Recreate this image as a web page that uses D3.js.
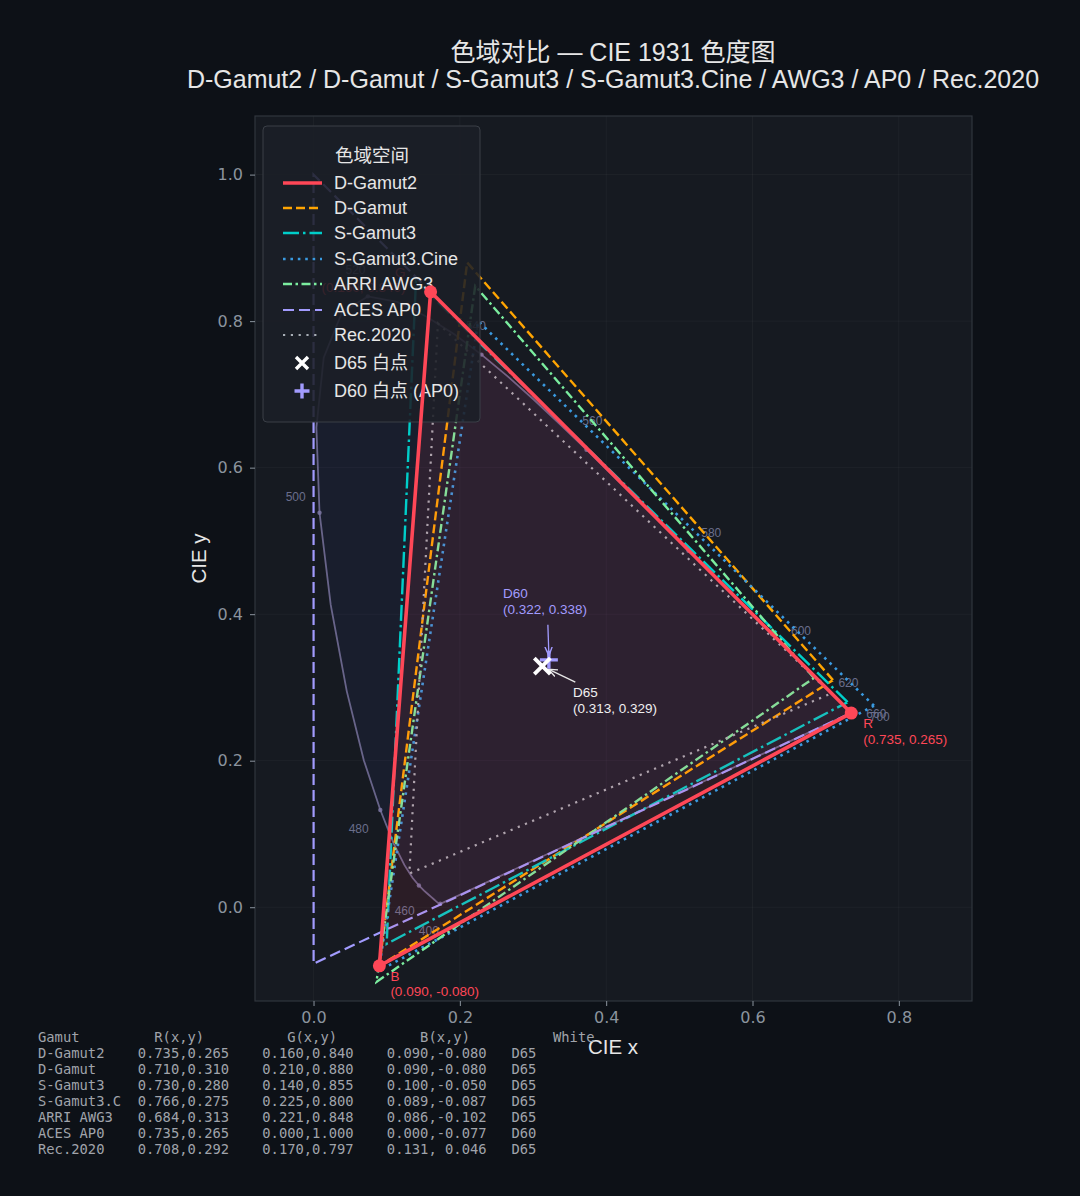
<!DOCTYPE html>
<html>
<head>
<meta charset="utf-8">
<script src="https://cdn.jsdelivr.net/npm/d3@7"></script>
<style>
  html, body { margin: 0; padding: 0; background: #0d1117; }
  svg { display: block; font-family: "Liberation Sans", "Noto Sans CJK SC", sans-serif; }
</style>
</head>
<body>
<div id="chart"></div>
<script>
// gamut primaries (x, y)
const gamutNames = ["D-Gamut2", "D-Gamut", "S-Gamut3", "S-Gamut3.Cine", "ARRI AWG3", "ACES AP0", "Rec.2020"];
const gamutRed   = [[0.735, 0.265], [0.710, 0.310], [0.730, 0.280], [0.766, 0.275], [0.684, 0.313], [0.7347, 0.2653], [0.708, 0.292]];
const gamutGreen = [[0.160, 0.840], [0.210, 0.880], [0.140, 0.855], [0.225, 0.800], [0.221, 0.848], [0.000, 1.000], [0.170, 0.797]];
const gamutBlue  = [[0.090, -0.080], [0.090, -0.080], [0.100, -0.050], [0.089, -0.087], [0.086, -0.102], [0.0001, -0.077], [0.131, 0.046]];
const gamutWhite = ["D65", "D65", "D65", "D65", "D65", "D60", "D65"];

const whiteD65 = [0.3127, 0.3290];
const whiteD60 = [0.32168, 0.33767];

// CIE 1931 2deg spectral locus, 5 nm steps
const locusNm = [380,385,390,395,400,405,410,415,420,425,430,435,440,445,450,455,460,465,470,475,480,485,490,495,500,505,510,515,520,525,530,535,540,545,550,555,560,565,570,575,580,585,590,595,600,605,610,615,620,625,630,635,640,645,650,655,660,665,670,675,680,685,690,695,700];
const locusX = [0.1741,0.1740,0.1738,0.1736,0.1733,0.1730,0.1726,0.1721,0.1714,0.1703,0.1689,0.1669,0.1644,0.1611,0.1566,0.1510,0.1440,0.1355,0.1241,0.1096,0.0913,0.0687,0.0454,0.0235,0.0082,0.0039,0.0139,0.0389,0.0743,0.1142,0.1547,0.1929,0.2296,0.2658,0.3016,0.3373,0.3731,0.4087,0.4441,0.4788,0.5125,0.5448,0.5752,0.6029,0.6270,0.6482,0.6658,0.6801,0.6915,0.7006,0.7079,0.7140,0.7190,0.7230,0.7260,0.7283,0.7300,0.7311,0.7320,0.7327,0.7334,0.7340,0.7344,0.7346,0.7347];
const locusY = [0.0050,0.0050,0.0049,0.0049,0.0048,0.0048,0.0048,0.0048,0.0051,0.0058,0.0069,0.0086,0.0109,0.0138,0.0177,0.0227,0.0297,0.0399,0.0578,0.0868,0.1327,0.2007,0.2950,0.4127,0.5384,0.6548,0.7502,0.8120,0.8338,0.8262,0.8059,0.7816,0.7543,0.7243,0.6923,0.6589,0.6245,0.5896,0.5547,0.5202,0.4866,0.4544,0.4242,0.3965,0.3725,0.3514,0.3340,0.3197,0.3083,0.2993,0.2920,0.2859,0.2809,0.2770,0.2740,0.2717,0.2700,0.2689,0.2680,0.2673,0.2666,0.2660,0.2656,0.2654,0.2653];
const labelNm = [400, 460, 480, 500, 520, 540, 560, 580, 600, 620, 660, 700];

const xTicks = [0.0, 0.2, 0.4, 0.6, 0.8];
const yTicks = [0.0, 0.2, 0.4, 0.6, 0.8, 1.0];

(function(){
  const W = 1080, H = 1196;
  const svg = d3.select("#chart").append("svg").attr("width", W).attr("height", H);
  svg.append("rect").attr("width", W).attr("height", H).attr("fill", "#0d1117");

  const plot = {left: 255, right: 972, top: 116, bottom: 1001};
  const x = d3.scaleLinear().domain([-0.08, 0.9]).range([plot.left, plot.right]);
  const y = d3.scaleLinear().domain([-0.128, 1.08]).range([plot.bottom, plot.top]);

  const styles = [
    {color: "#ff4757", width: 3.6, dash: null},
    {color: "#ffa502", width: 2.4, dash: "9,4"},
    {color: "#00cec9", width: 2.4, dash: "16,4,2.5,4"},
    {color: "#3a9ae0", width: 2.6, dash: "2.6,4.8"},
    {color: "#7bed9f", width: 2.4, dash: "9,3.5,2.5,3.5"},
    {color: "#a29bfe", width: 2.2, dash: "11,5"},
    {color: "#a8aeb6", width: 2.2, dash: "2.2,5.6"}
  ];

  // plot background
  svg.append("rect")
    .attr("x", plot.left).attr("y", plot.top)
    .attr("width", plot.right - plot.left).attr("height", plot.bottom - plot.top)
    .attr("fill", "#161a21");

  svg.append("clipPath").attr("id", "plotclip")
    .append("rect").attr("x", plot.left).attr("y", plot.top)
    .attr("width", plot.right - plot.left).attr("height", plot.bottom - plot.top);

  // grid
  const grid = svg.append("g");
  xTicks.forEach(t => grid.append("line").attr("x1", x(t)).attr("x2", x(t))
    .attr("y1", plot.top).attr("y2", plot.bottom).attr("stroke", "#ffffff").attr("stroke-opacity", 0.035));
  yTicks.forEach(t => grid.append("line").attr("y1", y(t)).attr("y2", y(t))
    .attr("x1", plot.left).attr("x2", plot.right).attr("stroke", "#ffffff").attr("stroke-opacity", 0.035));

  const g = svg.append("g").attr("clip-path", "url(#plotclip)");

  // spectral locus
  const locusPts = locusNm.map((nm, i) => [locusX[i], locusY[i]]);
  const line = d3.line().x(d => x(d[0])).y(d => y(d[1]));
  g.append("path").datum(locusPts.concat([locusPts[0]]))
    .attr("d", line)
    .attr("fill", "#4050d0").attr("fill-opacity", 0.07)
    .attr("stroke", "#7d77a3").attr("stroke-opacity", 0.8).attr("stroke-width", 1.8);

  const cx = x(whiteD65[0]), cy = y(whiteD65[1]);
  labelNm.forEach(nm => {
    const i = locusNm.indexOf(nm);
    const px = x(locusX[i]), py = y(locusY[i]);
    const dx = px - cx, dy = py - cy, len = Math.hypot(dx, dy);
    g.append("circle").attr("cx", px).attr("cy", py).attr("r", 2.2)
      .attr("fill", "#7d77a3").attr("fill-opacity", 0.85);
    g.append("text")
      .attr("x", px + dx / len * 29).attr("y", py + dy / len * 29)
      .attr("text-anchor", "middle").attr("dy", "0.35em")
      .attr("font-size", 12).attr("fill", "#6a6e8c")
      .text(nm);
  });

  // other gamut triangles
  [1, 2, 3, 4, 5, 6].forEach(k => {
    const pts = [gamutRed[k], gamutGreen[k], gamutBlue[k]];
    const s = styles[k];
    g.append("path").datum(pts.concat([pts[0]]))
      .attr("d", line).attr("fill", "none")
      .attr("stroke", s.color).attr("stroke-width", s.width)
      .attr("stroke-dasharray", s.dash);
  });

  // D-Gamut2 fill
  const dg2 = [gamutRed[0], gamutGreen[0], gamutBlue[0]];
  g.append("path").datum(dg2.concat([dg2[0]])).attr("d", line)
    .attr("fill", styles[0].color).attr("fill-opacity", 0.09).attr("stroke", "none");

  // D-Gamut2 vertex labels
  const vLabels = [
    {p: gamutRed[0], name: "R", dx: 12, dy: 10, anchor: "start"},
    {p: gamutGreen[0], name: "G", dx: -25, dy: -20, anchor: "end"},
    {p: gamutBlue[0], name: "B", dx: 11, dy: 10, anchor: "start"}
  ];
  vLabels.forEach(v => {
    const px = x(v.p[0]), py = y(v.p[1]);
    const t = g.append("text").attr("x", px + v.dx).attr("y", py + v.dy + 5)
      .attr("font-size", 13.5).attr("fill", styles[0].color).attr("text-anchor", v.anchor);
    t.append("tspan").attr("x", px + v.dx).text(v.name);
    t.append("tspan").attr("x", px + v.dx).attr("dy", 15.5)
      .text(`(${v.p[0].toFixed(3)}, ${v.p[1].toFixed(3)})`);
  });

  // arrow markers
  const defs = svg.append("defs");
  [["arrW", "#e8e8e8"], ["arrP", "#a29bfe"]].forEach(([id, c]) => {
    defs.append("marker").attr("id", id).attr("viewBox", "0 0 10 10")
      .attr("refX", 10).attr("refY", 5).attr("markerWidth", 7).attr("markerHeight", 7)
      .attr("orient", "auto")
      .append("path").attr("d", "M0,1 L10,5 L0,9").attr("fill", "none")
      .attr("stroke", c).attr("stroke-width", 1.5);
  });

  // white points
  const d65x = x(whiteD65[0]), d65y = y(whiteD65[1]);
  const d60x = x(whiteD60[0]), d60y = y(whiteD60[1]);

  g.append("line").attr("x1", d60x - 1).attr("y1", d60y - 35).attr("x2", d60x).attr("y2", d60y - 4)
    .attr("stroke", "#a29bfe").attr("stroke-width", 1.3).attr("marker-end", "url(#arrP)");
  g.append("line").attr("x1", d65x + 33).attr("y1", d65y + 16).attr("x2", d65x + 6).attr("y2", d65y + 3)
    .attr("stroke", "#e8e8e8").attr("stroke-width", 1.3).attr("marker-end", "url(#arrW)");

  const plus = (sel, px, py, r, c, w) => {
    sel.append("path").attr("d", `M${px - r},${py}L${px + r},${py}M${px},${py - r}L${px},${py + r}`)
      .attr("stroke", c).attr("stroke-width", w);
  };
  const cross = (sel, px, py, r, c, w) => {
    sel.append("path").attr("d", `M${px - r},${py - r}L${px + r},${py + r}M${px - r},${py + r}L${px + r},${py - r}`)
      .attr("stroke", c).attr("stroke-width", w);
  };
  plus(g, d60x, d60y, 9, "#a29bfe", 3.4);
  cross(g, d65x, d65y, 8, "#ffffff", 3.8);

  const ann = (px, py, lines, c) => {
    const t = g.append("text").attr("x", px).attr("y", py).attr("font-size", 13.5).attr("fill", c);
    lines.forEach((s, i) => t.append("tspan").attr("x", px).attr("dy", i ? 15.5 : 0).text(s));
  };
  ann(503, 598, ["D60", `(${whiteD60[0].toFixed(3)}, ${whiteD60[1].toFixed(3)})`], "#a29bfe");
  ann(573, 697, ["D65", `(${whiteD65[0].toFixed(3)}, ${whiteD65[1].toFixed(3)})`], "#f0f0f0");

  // frame
  svg.append("rect")
    .attr("x", plot.left).attr("y", plot.top)
    .attr("width", plot.right - plot.left).attr("height", plot.bottom - plot.top)
    .attr("fill", "none").attr("stroke", "#30363d").attr("stroke-width", 1.2);

  // axes
  const xAxis = svg.append("g").attr("transform", `translate(0,${plot.bottom})`)
    .call(d3.axisBottom(x).tickValues(xTicks).tickFormat(d3.format(".1f")).tickSize(5).tickPadding(6));
  const yAxis = svg.append("g").attr("transform", `translate(${plot.left},0)`)
    .call(d3.axisLeft(y).tickValues(yTicks).tickFormat(d3.format(".1f")).tickSize(5).tickPadding(7));
  [xAxis, yAxis].forEach(a => {
    a.select(".domain").remove();
    a.selectAll(".tick line").attr("stroke", "#8b949e");
    a.selectAll(".tick text").attr("fill", "#8b949e")
      .style("font-size", "16px").style("font-family", "'DejaVu Sans', sans-serif");
  });

  svg.append("text").attr("x", 613).attr("y", 1054)
    .attr("text-anchor", "middle").attr("font-size", 20.5).attr("fill", "#e6e6e6").text("CIE x");
  svg.append("text").attr("transform", `translate(206,${(plot.top + plot.bottom) / 2}) rotate(-90)`)
    .attr("text-anchor", "middle").attr("font-size", 20.5).attr("fill", "#e6e6e6").text("CIE y");

  // title
  svg.append("text").attr("x", 613).attr("y", 61).attr("text-anchor", "middle")
    .attr("font-size", 25).attr("fill", "#e6e6e6").text("色域对比 — CIE 1931 色度图");
  svg.append("text").attr("x", 613).attr("y", 88).attr("text-anchor", "middle")
    .attr("font-size", 25).attr("fill", "#e6e6e6")
    .text("D-Gamut2 / D-Gamut / S-Gamut3 / S-Gamut3.Cine / AWG3 / AP0 / Rec.2020");

  // legend
  const lg = svg.append("g");
  lg.append("rect").attr("x", 263).attr("y", 126).attr("width", 217).attr("height", 296)
    .attr("rx", 4).attr("fill", "#1b1f27").attr("fill-opacity", 0.88)
    .attr("stroke", "#3a3f47").attr("stroke-width", 1);
  lg.append("text").attr("x", 372).attr("y", 162).attr("text-anchor", "middle")
    .attr("font-size", 18.5).attr("fill", "#e6e6e6").text("色域空间");
  const rowY = [183, 208, 233, 259, 284, 310, 335];
  gamutNames.forEach((n, k) => {
    const s = styles[k];
    lg.append("line").attr("x1", 283).attr("x2", 322).attr("y1", rowY[k]).attr("y2", rowY[k])
      .attr("stroke", s.color).attr("stroke-width", s.width).attr("stroke-dasharray", s.dash);
    lg.append("text").attr("x", 334).attr("y", rowY[k]).attr("dy", "0.35em")
      .attr("font-size", 18).attr("fill", "#e6e6e6").text(n);
  });
  cross(lg, 302, 363, 6, "#ffffff", 3.4);
  lg.append("text").attr("x", 334).attr("y", 363).attr("dy", "0.35em")
    .attr("font-size", 18).attr("fill", "#e6e6e6").text("D65 白点");
  plus(lg, 302, 391, 7.5, "#a29bfe", 3.4);
  lg.append("text").attr("x", 334).attr("y", 391).attr("dy", "0.35em")
    .attr("font-size", 18).attr("fill", "#e6e6e6").text("D60 白点 (AP0)");

  // D-Gamut2 outline and vertices drawn above the legend
  const top = svg.append("g").attr("clip-path", "url(#plotclip)");
  top.append("path").datum(dg2.concat([dg2[0]])).attr("d", line)
    .attr("fill", "none").attr("stroke", styles[0].color).attr("stroke-width", styles[0].width);
  dg2.forEach(p => top.append("circle").attr("cx", x(p[0])).attr("cy", y(p[1])).attr("r", 6.5)
    .attr("fill", styles[0].color));

  // summary table
  const xy = (p, w) => p[0].toFixed(3) + "," + (w ? p[1].toFixed(3).padStart(w) : p[1].toFixed(3));
  const rows = ["Gamut".padEnd(14) + "R(x,y)".padEnd(16) + "G(x,y)".padEnd(16) + "B(x,y)".padEnd(16) + "White"];
  gamutNames.forEach((n, k) => {
    rows.push(n.slice(0, 10).padEnd(12) + xy(gamutRed[k]).padEnd(15) + xy(gamutGreen[k]).padEnd(15)
      + xy(gamutBlue[k], 6).padEnd(15) + gamutWhite[k]);
  });
  rows.forEach((r, i) => {
    svg.append("text").attr("x", 38).attr("y", 1042 + 16 * i)
      .style("font-family", "'DejaVu Sans Mono', monospace").style("font-size", "13.8px")
      .attr("fill", "#a0a4ab").style("white-space", "pre").text(r);
  });
})();
</script>
</body>
</html>
